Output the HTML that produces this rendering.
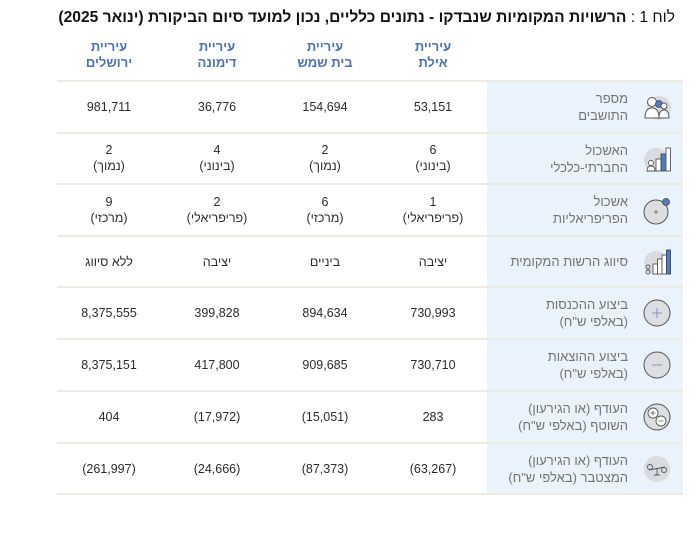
<!DOCTYPE html>
<html><head><meta charset="utf-8">
<style>
html,body{margin:0;padding:0;background:#fff;}
body{width:699px;height:540px;position:relative;overflow:hidden;font-family:"Liberation Sans","DejaVu Sans",sans-serif;}
.abs{position:absolute;}
.title{position:absolute;right:24px;top:9px;font-size:15.6px;color:#111;white-space:nowrap;direction:rtl;}
.title b{font-weight:bold;}
.hdr{position:absolute;width:108px;text-align:center;color:#4a70b5;font-weight:bold;font-size:13px;line-height:16px;top:39px;direction:rtl;}
.blue{position:absolute;left:487px;top:82px;width:196px;height:412px;background:#eaf2fb;}
.line{position:absolute;left:57px;width:626px;height:2px;background:#ecebe2;}
.cell{position:absolute;width:108px;text-align:center;color:#2b2b2b;font-size:12.5px;line-height:16px;direction:rtl;}
.lab{position:absolute;right:71px;text-align:right;color:#737373;font-size:13px;line-height:17px;direction:rtl;white-space:nowrap;}
.ic{position:absolute;left:642px;width:30px;height:30px;}
</style></head><body>
<div class="title">לוח 1 : <b>הרשויות המקומיות שנבדקו - נתונים כלליים, נכון למועד סיום הביקורת (ינואר 2025)</b></div>

<div class="hdr" style="left:379px">עיריית<br>אילת</div>
<div class="hdr" style="left:271px">עיריית<br>בית שמש</div>
<div class="hdr" style="left:163px">עיריית<br>דימונה</div>
<div class="hdr" style="left:55px">עיריית<br>ירושלים</div>

<div class="blue"></div>
<div class="line" style="top:80px"></div>
<div class="line" style="top:132px"></div>
<div class="line" style="top:183px"></div>
<div class="line" style="top:235px"></div>
<div class="line" style="top:286px"></div>
<div class="line" style="top:338px"></div>
<div class="line" style="top:390px"></div>
<div class="line" style="top:442px"></div>
<div class="line" style="top:493px"></div>

<!-- labels -->
<div class="lab" style="top:90px">מספר<br>התושבים</div>
<div class="lab" style="top:142px">האשכול<br>החברתי-כלכלי</div>
<div class="lab" style="top:193px">אשכול<br>הפריפריאליות</div>
<div class="lab" style="top:253px">סיווג הרשות המקומית</div>
<div class="lab" style="top:296px">ביצוע ההכנסות<br>(באלפי ש"ח)</div>
<div class="lab" style="top:348px">ביצוע ההוצאות<br>(באלפי ש"ח)</div>
<div class="lab" style="top:400px">העודף (או הגירעון)<br>השוטף (באלפי ש"ח)</div>
<div class="lab" style="top:452px">העודף (או הגירעון)<br>המצטבר (באלפי ש"ח)</div>

<!-- row 1 -->
<div class="cell" style="left:379px;top:99px">53,151</div>
<div class="cell" style="left:271px;top:99px">154,694</div>
<div class="cell" style="left:163px;top:99px">36,776</div>
<div class="cell" style="left:55px;top:99px">981,711</div>
<!-- row 2 -->
<div class="cell" style="left:379px;top:142px">6<br>(בינוני)</div>
<div class="cell" style="left:271px;top:142px">2<br>(נמוך)</div>
<div class="cell" style="left:163px;top:142px">4<br>(בינוני)</div>
<div class="cell" style="left:55px;top:142px">2<br>(נמוך)</div>
<!-- row 3 -->
<div class="cell" style="left:379px;top:194px">1<br>(פריפריאלי)</div>
<div class="cell" style="left:271px;top:194px">6<br>(מרכזי)</div>
<div class="cell" style="left:163px;top:194px">2<br>(פריפריאלי)</div>
<div class="cell" style="left:55px;top:194px">9<br>(מרכזי)</div>
<!-- row 4 -->
<div class="cell" style="left:379px;top:254px">יציבה</div>
<div class="cell" style="left:271px;top:254px">ביניים</div>
<div class="cell" style="left:163px;top:254px">יציבה</div>
<div class="cell" style="left:55px;top:254px">ללא סיווג</div>
<!-- row 5 -->
<div class="cell" style="left:379px;top:305px">730,993</div>
<div class="cell" style="left:271px;top:305px">894,634</div>
<div class="cell" style="left:163px;top:305px">399,828</div>
<div class="cell" style="left:55px;top:305px">8,375,555</div>
<!-- row 6 -->
<div class="cell" style="left:379px;top:357px">730,710</div>
<div class="cell" style="left:271px;top:357px">909,685</div>
<div class="cell" style="left:163px;top:357px">417,800</div>
<div class="cell" style="left:55px;top:357px">8,375,151</div>
<!-- row 7 -->
<div class="cell" style="left:379px;top:409px">283</div>
<div class="cell" style="left:271px;top:409px">(15,051)</div>
<div class="cell" style="left:163px;top:409px">(17,972)</div>
<div class="cell" style="left:55px;top:409px">404</div>
<!-- row 8 -->
<div class="cell" style="left:379px;top:461px">(63,267)</div>
<div class="cell" style="left:271px;top:461px">(87,373)</div>
<div class="cell" style="left:163px;top:461px">(24,666)</div>
<div class="cell" style="left:55px;top:461px">(261,997)</div>

<!-- icons -->
<svg class="ic" style="top:93px" viewBox="0 0 30 30">
 <circle cx="17" cy="15" r="12" fill="#d8dbe0"/>
 <circle cx="10" cy="9" r="4.5" fill="#fff" stroke="#555" stroke-width="1"/>
 <path d="M3 25 Q3 15 10 15 Q17 15 17 25 Z" fill="#fff" stroke="#555" stroke-width="1"/>
 <circle cx="17" cy="11" r="3.5" fill="#4f7cc0" stroke="#445" stroke-width="0.8"/>
 <circle cx="22" cy="13" r="3" fill="#fff" stroke="#555" stroke-width="1"/>
 <path d="M17 25 Q17 17 22 17 Q27 17 27 25 Z" fill="#fff" stroke="#555" stroke-width="1"/>
</svg>
<svg class="ic" style="top:144px" viewBox="0 0 30 30">
 <circle cx="14" cy="16" r="12" fill="#d8dbe0"/>
 <rect x="14" y="15" width="5" height="12" fill="#fff" stroke="#555" stroke-width="0.9"/>
 <rect x="19" y="10" width="5" height="17" fill="#4f7cc0" stroke="#445" stroke-width="0.9"/>
 <rect x="24" y="4" width="4.5" height="23" fill="#fff" stroke="#555" stroke-width="0.9"/>
 <circle cx="9" cy="19" r="2.5" fill="#fff" stroke="#555" stroke-width="0.9"/>
 <path d="M5 27 Q5 22 9 22 Q13 22 13 27 Z" fill="#fff" stroke="#555" stroke-width="0.9"/>
</svg>
<svg class="ic" style="top:196px" viewBox="0 0 30 30">
 <circle cx="14" cy="16" r="12" fill="#dcdee2" stroke="#555" stroke-width="1"/>
 <circle cx="14" cy="16" r="1.2" fill="none" stroke="#555" stroke-width="0.7"/>
 <circle cx="24" cy="6" r="3.5" fill="#4f7cc0" stroke="#445" stroke-width="0.8"/>
</svg>
<svg class="ic" style="top:247px" viewBox="0 0 30 30">
 <circle cx="14" cy="16" r="12" fill="#d8dbe0"/>
 <rect x="11" y="17" width="4.5" height="10" fill="#fff" stroke="#555" stroke-width="0.9"/>
 <rect x="15.5" y="12" width="4.5" height="15" fill="#fff" stroke="#555" stroke-width="0.9"/>
 <rect x="20" y="8" width="4.5" height="19" fill="#fff" stroke="#555" stroke-width="0.9"/>
 <rect x="24.5" y="3" width="4" height="24" fill="#4f7cc0" stroke="#445" stroke-width="0.9"/>
 <circle cx="6" cy="20" r="2" fill="none" stroke="#555" stroke-width="0.9"/>
 <circle cx="6" cy="25" r="2" fill="none" stroke="#555" stroke-width="0.9"/>
</svg>
<svg class="ic" style="top:298px" viewBox="0 0 30 30">
 <circle cx="15" cy="15" r="13" fill="#dcdee2" stroke="#555" stroke-width="1"/>
 <path d="M15 10 V20 M10 15 H20" stroke="#7f95b8" stroke-width="1"/>
</svg>
<svg class="ic" style="top:350px" viewBox="0 0 30 30">
 <circle cx="15" cy="15" r="13" fill="#dcdee2" stroke="#555" stroke-width="1"/>
 <path d="M10 15 H20" stroke="#8a93a0" stroke-width="1"/>
</svg>
<svg class="ic" style="top:402px" viewBox="0 0 30 30">
 <circle cx="15" cy="15" r="13" fill="#dcdee2" stroke="#555" stroke-width="1"/>
 <circle cx="11" cy="11" r="5" fill="#fff" stroke="#555" stroke-width="0.9"/>
 <circle cx="19" cy="19" r="5" fill="#fff" stroke="#555" stroke-width="0.9"/>
 <path d="M11 8.5 V13.5 M8.5 11 H13.5 M16.5 19 H21.5" stroke="#555" stroke-width="0.8"/>
</svg>
<svg class="ic" style="top:454px" viewBox="0 0 30 30">
 <circle cx="15" cy="15" r="13" fill="#d8dbe0"/>
 <circle cx="8" cy="13" r="2.5" fill="none" stroke="#555" stroke-width="0.9"/>
 <circle cx="22" cy="16" r="2.5" fill="none" stroke="#555" stroke-width="0.9"/>
 <path d="M7 16 L23 13 M15 14.5 V21 M12 21 H18" stroke="#555" stroke-width="0.9" fill="none"/>
</svg>
</body></html>
